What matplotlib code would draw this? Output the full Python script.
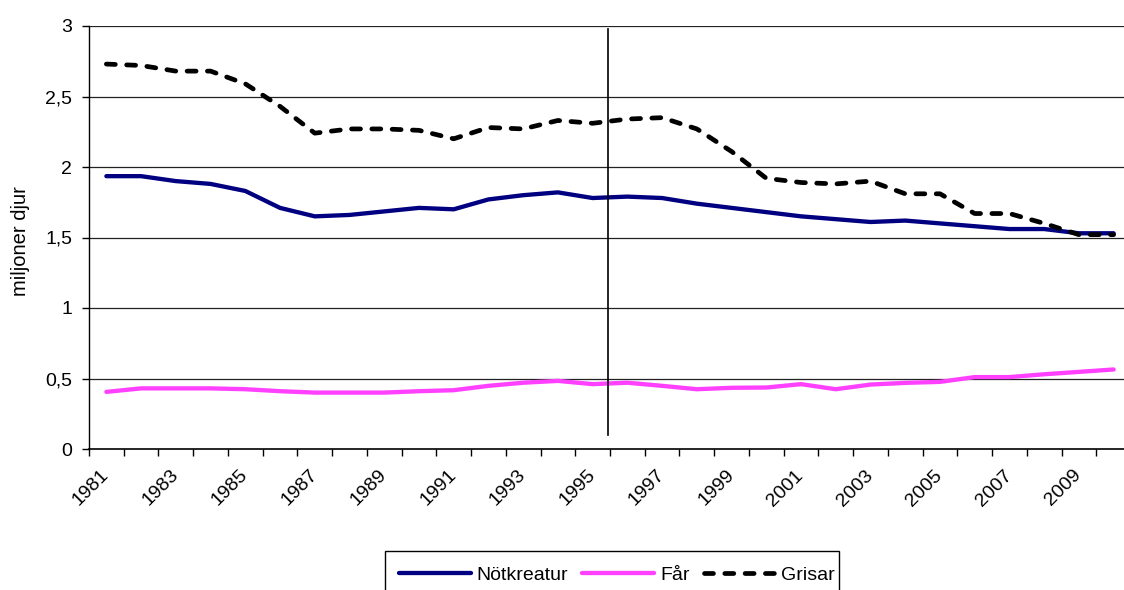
import matplotlib

matplotlib.use("Agg")
import matplotlib.pyplot as plt
from matplotlib.patches import Rectangle
import numpy as np

plt.rcParams.update({"font.family": ["Liberation Sans", "DejaVu Sans"]})

years = list(range(1981, 2011))
notkreatur = [1.935, 1.935, 1.90, 1.88, 1.83, 1.71, 1.65, 1.66, 1.685, 1.71,
              1.70, 1.77, 1.80, 1.82, 1.78, 1.79, 1.78, 1.74, 1.71, 1.68,
              1.65, 1.63, 1.61, 1.62, 1.60, 1.58, 1.56, 1.56, 1.53, 1.53]
far = [0.405, 0.43, 0.43, 0.43, 0.424, 0.41, 0.40, 0.40, 0.40, 0.41,
       0.417, 0.448, 0.47, 0.483, 0.46, 0.47, 0.448, 0.424, 0.434, 0.436,
       0.46, 0.424, 0.457, 0.469, 0.476, 0.51, 0.51, 0.53, 0.547, 0.564]
grisar = [2.73, 2.72, 2.68, 2.68, 2.59, 2.43, 2.24, 2.27, 2.27, 2.26,
          2.20, 2.28, 2.27, 2.33, 2.31, 2.34, 2.35, 2.27, 2.11, 1.92,
          1.89, 1.88, 1.90, 1.81, 1.81, 1.67, 1.67, 1.60, 1.52, 1.52]
y_ticks = [0, 0.5, 1, 1.5, 2, 2.5, 3]
y_tick_labels = ["0", "0,5", "1", "1,5", "2", "2,5", "3"]
marker_year = 1995.44  # vertical reference line

W, H = 1124, 590
fig = plt.figure(figsize=(W / 100, H / 100), dpi=100)
ax = fig.add_axes([89 / W, 1 - 449 / H, (1131 - 89) / W, (449 - 26) / H])

x = np.arange(len(years))
ax.plot(x, notkreatur, color="#000080", lw=3.1, solid_capstyle="round",
        label="Nötkreatur", zorder=3)
ax.plot(x, far, color="#FF40FF", lw=3.1, solid_capstyle="round",
        label="Får", zorder=3)
ax.plot(x, grisar, color="black", lw=3.4, ls=(0, (1.9, 2.4)),
        dash_capstyle="round", label="Grisar", zorder=4)

xm = marker_year - years[0]
ax.plot([xm, xm], [0.10, 2.98], color="black", lw=1.2, zorder=5)

ax.set_xlim(-0.5, len(years) - 0.5)
ax.set_ylim(0, 3)

# grid lines
ax.set_yticks(y_ticks)
ax.set_yticklabels(y_tick_labels, fontsize=14)
for v in y_ticks[1:]:
    ax.axhline(v, color="#222222", lw=0.9, zorder=1)

# tick marks at category boundaries, labels at category centres
ax.set_xticks(np.arange(len(years) + 1) - 0.5)
ax.set_xticklabels([])
ax.set_xticks(x[::2], minor=True)
ax.set_xticklabels([str(y) for y in years[::2]], minor=True, fontsize=14,
                   rotation=45, ha="right", va="center", rotation_mode="anchor")
ax.tick_params(axis="x", which="minor", length=0, pad=17)
ax.tick_params(axis="x", which="major", length=5, width=1, direction="out")
ax.tick_params(axis="y", length=5, width=1, direction="out", pad=7)

for s in ["top", "right"]:
    ax.spines[s].set_visible(False)
ax.spines["left"].set_linewidth(1)
ax.spines["bottom"].set_linewidth(1.2)

fig.text(20 / W, 1 - 241 / H, "miljoner djur", rotation=90, fontsize=14.5,
         ha="center", va="center")

# legend (frame drawn separately, cut off at bottom like the original)
fig.legend(loc="center", bbox_to_anchor=(617 / W, 1 - 575 / H), ncol=3,
           fontsize=14, frameon=False, handlelength=3.7,
           handletextpad=0.28, columnspacing=0.75, borderpad=0,
           borderaxespad=0)
fig.patches.append(Rectangle((385 / W, -0.05), (839 - 385) / W, 0.05 + (590 - 551) / H,
                             transform=fig.transFigure, fill=False,
                             edgecolor="black", lw=1))

fig.savefig("out.png", dpi=100)
